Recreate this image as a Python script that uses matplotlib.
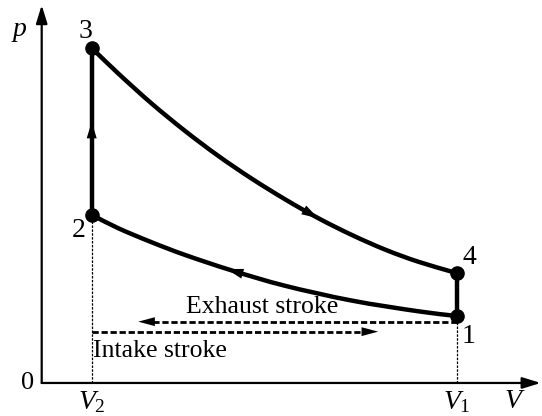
import matplotlib
matplotlib.use("Agg")
import matplotlib.pyplot as plt
from matplotlib.path import Path
from matplotlib.patches import PathPatch

plt.rcParams['font.family'] = ['Liberation Serif', 'DejaVu Serif']
plt.rcParams['mathtext.fontset'] = 'custom'
plt.rcParams['mathtext.rm'] = 'Liberation Serif'
plt.rcParams['mathtext.it'] = 'Liberation Serif:italic'
plt.rcParams['lines.scale_dashes'] = False

# cycle states (V in units of V2, p in units of p1)
V2, V1 = 1.0, 8.3
p1, p2, p3, p4 = 1.0, 2.51, 5.0, 1.64

# adiabatic expansion 3 -> 4
exp_V = [1.0, 1.53, 2.2, 2.87, 3.53, 4.2, 4.87, 5.53, 6.2, 6.87, 7.53, 8.3]
exp_p = [5.0, 4.62, 4.17, 3.76, 3.39, 3.05, 2.74, 2.46, 2.21, 1.99, 1.81, 1.64]

# adiabatic compression 1 -> 2
cmp_V = [1.0, 1.53, 2.2, 2.87, 3.8, 4.87, 6.2, 7.53, 8.3]
cmp_p = [2.51, 2.31, 2.10, 1.91, 1.68, 1.45, 1.23, 1.07, 1.0]

# exhaust / intake strokes
exhaust_p, exhaust_end = 0.915, 1.93
intake_p, intake_end = 0.766, 6.73


def smooth_path(xs, ys):
    """Bezier path through the given points (Catmull-Rom tangents)."""
    n = len(xs)
    tang = []
    for i in range(n):
        a = max(i - 1, 0)
        b = min(i + 1, n - 1)
        k = 0.5 if 0 < i < n - 1 else 1.0
        tang.append(((xs[b] - xs[a]) * k, (ys[b] - ys[a]) * k))
    verts = [(xs[0], ys[0])]
    codes = [Path.MOVETO]
    for i in range(n - 1):
        verts += [(xs[i] + tang[i][0] / 3, ys[i] + tang[i][1] / 3),
                  (xs[i + 1] - tang[i + 1][0] / 3, ys[i + 1] - tang[i + 1][1] / 3),
                  (xs[i + 1], ys[i + 1])]
        codes += [Path.CURVE4] * 3
    return Path(verts, codes)


def arrow_head(ax, tip, tail, hl=12, hw=3.6):
    ax.annotate('', xy=tip, xytext=tail,
                arrowprops=dict(arrowstyle='-|>,head_length=%g,head_width=%g' % (hl, hw),
                                color='k', lw=0, shrinkA=0, shrinkB=0,
                                mutation_scale=1))


fig = plt.figure(figsize=(5.42, 4.16), dpi=100)
ax = fig.add_axes([0, 0, 1, 1])
ax.set_xlim(-0.834, 10.006)
ax.set_ylim(-0.493, 5.716)
ax.axis('off')

# axes with arrows
for tip in [(0, 5.64), (9.98, 0)]:
    ax.annotate('', xy=tip, xytext=(0, 0),
                arrowprops=dict(arrowstyle='-|>,head_length=11,head_width=3.4',
                                color='k', lw=1.6, shrinkA=0, shrinkB=0, mutation_scale=1))

# thin dotted guides
ax.plot([V2, V2], [0, p2], color='k', lw=0.9, dashes=(1.8, 1.0))
ax.plot([V1, V1], [0, p1], color='k', lw=0.9, dashes=(1.8, 1.0))

# cycle
for xs, ys in [(exp_V, exp_p), (cmp_V, cmp_p)]:
    ax.add_patch(PathPatch(smooth_path(xs, ys), fill=False, color='k', lw=3.2,
                           capstyle='round', joinstyle='round'))
ax.plot([V2, V2], [p2, p3], color='k', lw=3.2)
ax.plot([V1, V1], [p1, p4], color='k', lw=3.2)
ax.plot([V1, V2, V2, V1], [p1, p2, p3, p4], 'o', color='k', ms=9.5)

# direction arrows on the cycle
arrow_head(ax, (V2, 3.9), (V2, 3.6))
arrow_head(ax, (5.53, 2.46), (5.2, 2.60))
arrow_head(ax, (3.7, 1.70), (4.0, 1.635))

# exhaust / intake strokes
ax.plot([V1, exhaust_end + 0.2], [exhaust_p, exhaust_p], color='k', lw=2.0, dashes=(4.5, 2.0))
arrow_head(ax, (exhaust_end, exhaust_p), (exhaust_end + 0.3, exhaust_p), hl=12, hw=3.2)
ax.plot([V2, intake_end - 0.2], [intake_p, intake_p], color='k', lw=2.0, dashes=(4.5, 2.0))
arrow_head(ax, (intake_end, intake_p), (intake_end - 0.3, intake_p), hl=12, hw=3.2)

ax.text(4.41, 1.045, 'Exhaust stroke', fontsize=18.5, ha='center', va='baseline')
ax.text(1.03, 0.388, 'Intake stroke', fontsize=18.5, ha='left', va='baseline')

# labels
ax.text(-0.434, 5.27, 'p', fontsize=20, style='italic', ha='center', va='center')
ax.text(9.43, -0.28, 'V', fontsize=20, style='italic', ha='center', va='center')
ax.text(-0.274, 0.0, '0', fontsize=19, ha='center', va='center')
ax.text(V2, -0.28, r'$V_\mathrm{2}$', fontsize=20, ha='center', va='center')
ax.text(V1, -0.28, r'$V_\mathrm{1}$', fontsize=20, ha='center', va='center')
ax.text(0.866, 5.25, '3', fontsize=20, ha='center', va='center')
ax.text(0.746, 2.28, '2', fontsize=20, ha='center', va='center')
ax.text(8.55, 1.87, '4', fontsize=20, ha='center', va='center')
ax.text(8.53, 0.69, '1', fontsize=20, ha='center', va='center')

plt.savefig('out.png', dpi=100)
